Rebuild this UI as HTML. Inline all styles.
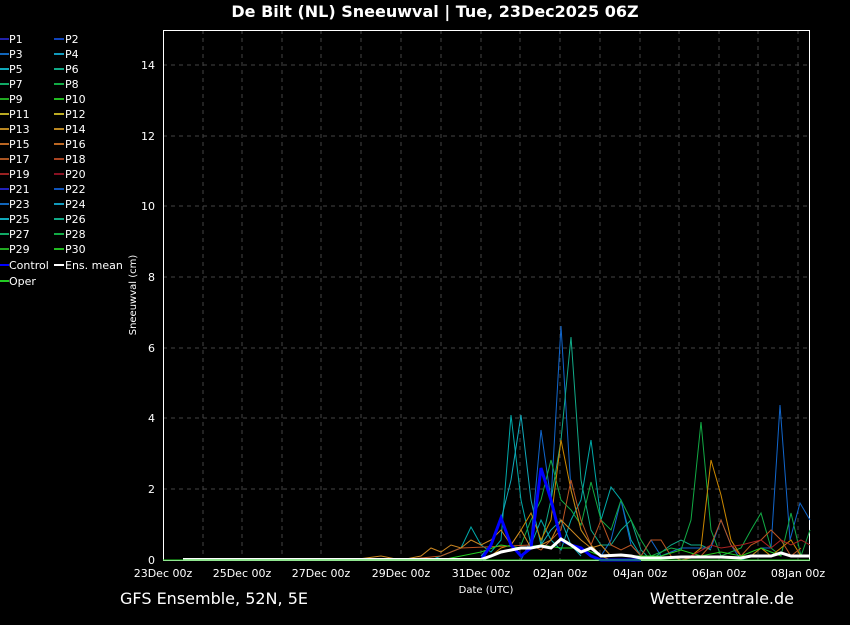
<!DOCTYPE html>
<html><head><meta charset="utf-8"><style>
body{margin:0;background:#000;}
svg text{font-family:"DejaVu Sans","Liberation Sans",sans-serif;fill:#fff;}
</style></head><body>
<svg width="850" height="620" xmlns="http://www.w3.org/2000/svg">
<rect width="850" height="620" fill="#000"/>
<text x="435" y="17" font-size="16" font-weight="bold" text-anchor="middle">De Bilt  (NL)  Sneeuwval | Tue, 23Dec2025 06Z</text>
<g stroke="#444" stroke-dasharray="4,4" stroke-width="1">
<line x1="203" y1="30" x2="203" y2="560"/><line x1="242" y1="30" x2="242" y2="560"/><line x1="282" y1="30" x2="282" y2="560"/><line x1="321" y1="30" x2="321" y2="560"/><line x1="361" y1="30" x2="361" y2="560"/><line x1="401" y1="30" x2="401" y2="560"/><line x1="441" y1="30" x2="441" y2="560"/><line x1="481" y1="30" x2="481" y2="560"/><line x1="520" y1="30" x2="520" y2="560"/><line x1="560" y1="30" x2="560" y2="560"/><line x1="600" y1="30" x2="600" y2="560"/><line x1="640" y1="30" x2="640" y2="560"/><line x1="679" y1="30" x2="679" y2="560"/><line x1="719" y1="30" x2="719" y2="560"/><line x1="758" y1="30" x2="758" y2="560"/><line x1="798" y1="30" x2="798" y2="560"/>
<line x1="163" y1="489" x2="810" y2="489"/><line x1="163" y1="418" x2="810" y2="418"/><line x1="163" y1="348" x2="810" y2="348"/><line x1="163" y1="277" x2="810" y2="277"/><line x1="163" y1="206" x2="810" y2="206"/><line x1="163" y1="136" x2="810" y2="136"/><line x1="163" y1="65" x2="810" y2="65"/>
</g>
<rect x="163.5" y="30.5" width="646" height="530" fill="none" stroke="#fff" stroke-width="1"/>
<g font-size="11" text-anchor="end">
<text x="155" y="564">0</text><text x="155" y="493">2</text><text x="155" y="422">4</text><text x="155" y="352">6</text><text x="155" y="281">8</text><text x="155" y="210">10</text><text x="155" y="140">12</text><text x="155" y="69">14</text>
</g>
<g font-size="11" text-anchor="middle">
<text x="163" y="577">23Dec 00z</text><text x="242" y="577">25Dec 00z</text><text x="321" y="577">27Dec 00z</text><text x="401" y="577">29Dec 00z</text><text x="481" y="577">31Dec 00z</text><text x="560" y="577">02Jan 00z</text><text x="640" y="577">04Jan 00z</text><text x="719" y="577">06Jan 00z</text><text x="798" y="577">08Jan 00z</text>
</g>
<text x="486" y="593" font-size="10" text-anchor="middle">Date (UTC)</text>
<text transform="translate(136,295) rotate(-90)" font-size="10" text-anchor="middle">Sneeuwval (cm)</text>
<text x="120" y="604" font-size="16">GFS Ensemble, 52N, 5E</text>
<text x="794" y="604" font-size="16" text-anchor="end">Wetterzentrale.de</text>
<g fill="none" stroke-width="1">
<polyline stroke="#0aa" points="431,560 441,556 451,552 461,548 471,527 481,545 491,552 501,540 511,415 521,500 531,545 541,520 551,540 561,550 571,520 581,500 591,440 601,520 611,487 621,500 631,540 641,556 651,560"/>
<polyline stroke="#1ab" points="481,556 491,545 501,520 511,480 521,415 531,500 541,545 551,530 561,520 571,545 581,556"/>
<polyline stroke="#16c" points="521,560 531,540 541,430 551,500 561,326 571,490 581,530 591,545 601,556 611,540 621,500 631,545 641,556 651,540 661,556 681,548 691,548 701,548 711,548 721,520 731,545 741,560 751,556 761,548 771,548 780,405 790,540 800,503 810,520"/>
<polyline stroke="#1a8" points="541,545 551,500 561,440 571,337 581,480 591,530 601,545 611,545 621,530 631,520 641,550 651,560 671,545 681,540 691,545 701,545 711,550"/>
<polyline stroke="#1a4" points="521,545 531,520 541,500 551,460 561,500 571,510 581,525 591,482 601,520 611,530 621,500 631,520 641,540 651,556 671,548 681,550 691,520 701,422 711,530 721,556 741,548 751,530 761,513 771,548 781,556 791,513 801,556 810,530"/>
<polyline stroke="#c80" points="491,556 501,548 511,545 521,530 531,513 541,540 551,520 561,440 571,490 581,530 591,545 601,556 611,560 691,556 701,548 711,460 721,495 731,540 741,556 751,556 761,548 771,556 781,548 791,540 801,556"/>
<polyline stroke="#b52" points="401,560 441,556 451,552 461,548 531,545 541,550 561,530 571,480 581,520 591,545 601,520 611,545 621,550 631,545 641,556 651,540 661,540 671,556 681,560 701,556 711,545 721,520 731,545 741,556 751,545 761,540 771,530 781,540 791,556 801,548"/>
<polyline stroke="#c82" points="351,560 381,556 401,560 421,556 431,548 441,552 451,545 461,548 471,540 481,545 491,540 501,530 511,545 521,530 531,548 541,545 551,540 561,520 571,530 581,540 591,548 601,545 611,556"/>
<polyline stroke="#2c2" points="441,560 461,556 481,552 501,545 521,548 541,545 561,548 581,548 601,556 661,556 681,550 701,556 721,552 741,556 761,548 781,556"/>
<polyline stroke="#a22" points="691,556 711,545 721,548 741,545 761,540 771,548 781,540 791,545 801,540 810,545"/>
<polyline stroke="#00f" stroke-width="3" points="481,560 491,545 501,518 511,545 521,556 531,548 541,468 551,500 561,540 571,545 581,548 591,556 601,560 641,560"/>
<polyline stroke="#fff" stroke-width="3" points="183,559.5 481,559.5 491,556 501,552 511,550 521,548 531,548 541,546 551,548 561,539 571,545 581,552 591,548 601,556 621,555 631,556 641,558 661,558 681,557 701,557 721,557 741,558 751,556 771,556 781,553 791,556 810,556"/>
<line x1="163" y1="560" x2="810" y2="560" stroke="#2c2" stroke-width="1"/>
</g>
<g font-size="11">
<g stroke-width="2">
<line x1="0" y1="39" x2="9" y2="39" stroke="#22a"/><line x1="54" y1="39" x2="64" y2="39" stroke="#14b"/>
<line x1="0" y1="54" x2="9" y2="54" stroke="#16b"/><line x1="54" y1="54" x2="64" y2="54" stroke="#19b"/>
<line x1="0" y1="69" x2="9" y2="69" stroke="#1ab"/><line x1="54" y1="69" x2="64" y2="69" stroke="#1a8"/>
<line x1="0" y1="84" x2="9" y2="84" stroke="#1a6"/><line x1="54" y1="84" x2="64" y2="84" stroke="#1a4"/>
<line x1="0" y1="99" x2="9" y2="99" stroke="#2a2"/><line x1="54" y1="99" x2="64" y2="99" stroke="#2b2"/>
<line x1="0" y1="114" x2="9" y2="114" stroke="#ba2"/><line x1="54" y1="114" x2="64" y2="114" stroke="#ba2"/>
<line x1="0" y1="129" x2="9" y2="129" stroke="#b82"/><line x1="54" y1="129" x2="64" y2="129" stroke="#b82"/>
<line x1="0" y1="144" x2="9" y2="144" stroke="#b62"/><line x1="54" y1="144" x2="64" y2="144" stroke="#b62"/>
<line x1="0" y1="159" x2="9" y2="159" stroke="#a52"/><line x1="54" y1="159" x2="64" y2="159" stroke="#a42"/>
<line x1="0" y1="174" x2="9" y2="174" stroke="#922"/><line x1="54" y1="174" x2="64" y2="174" stroke="#812"/>
<line x1="0" y1="189" x2="9" y2="189" stroke="#22b"/><line x1="54" y1="189" x2="64" y2="189" stroke="#15b"/>
<line x1="0" y1="204" x2="9" y2="204" stroke="#16b"/><line x1="54" y1="204" x2="64" y2="204" stroke="#19b"/>
<line x1="0" y1="219" x2="9" y2="219" stroke="#1ab"/><line x1="54" y1="219" x2="64" y2="219" stroke="#1a8"/>
<line x1="0" y1="234" x2="9" y2="234" stroke="#1a6"/><line x1="54" y1="234" x2="64" y2="234" stroke="#1a4"/>
<line x1="0" y1="249" x2="9" y2="249" stroke="#2a2"/><line x1="54" y1="249" x2="64" y2="249" stroke="#2b2"/>
<line x1="0" y1="265" x2="9" y2="265" stroke="#00f"/><line x1="54" y1="265" x2="64" y2="265" stroke="#fff"/>
<line x1="0" y1="281" x2="9" y2="281" stroke="#2c2"/>
</g>
<text x="9" y="43">P1</text><text x="65" y="43">P2</text>
<text x="9" y="58">P3</text><text x="65" y="58">P4</text>
<text x="9" y="73">P5</text><text x="65" y="73">P6</text>
<text x="9" y="88">P7</text><text x="65" y="88">P8</text>
<text x="9" y="103">P9</text><text x="65" y="103">P10</text>
<text x="9" y="118">P11</text><text x="65" y="118">P12</text>
<text x="9" y="133">P13</text><text x="65" y="133">P14</text>
<text x="9" y="148">P15</text><text x="65" y="148">P16</text>
<text x="9" y="163">P17</text><text x="65" y="163">P18</text>
<text x="9" y="178">P19</text><text x="65" y="178">P20</text>
<text x="9" y="193">P21</text><text x="65" y="193">P22</text>
<text x="9" y="208">P23</text><text x="65" y="208">P24</text>
<text x="9" y="223">P25</text><text x="65" y="223">P26</text>
<text x="9" y="238">P27</text><text x="65" y="238">P28</text>
<text x="9" y="253">P29</text><text x="65" y="253">P30</text>
<text x="9" y="269">Control</text><text x="65" y="269">Ens. mean</text>
<text x="9" y="285">Oper</text>
</g>
</svg>
</body></html>
